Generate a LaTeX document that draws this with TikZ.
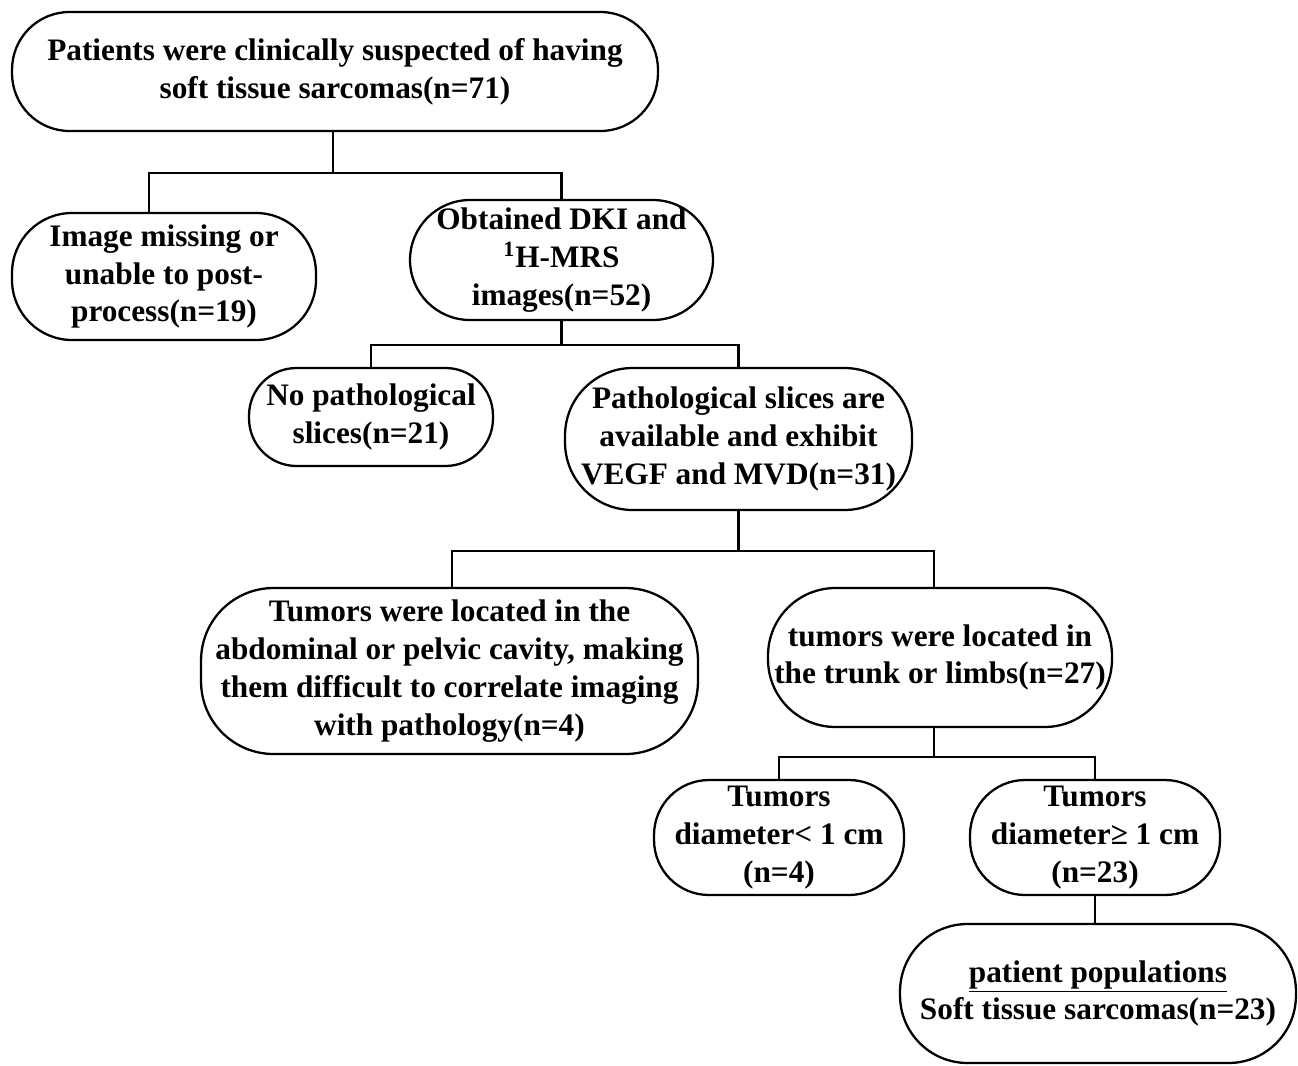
\documentclass[tikz,border=0pt]{standalone}
\usepackage{fontspec}
\setmainfont{Liberation Serif}[BoldFont={Liberation Serif Bold}]
\begin{document}
\begin{tikzpicture}[x=0.02cm,y=-0.02cm,
  box/.style={draw, line width=1.3pt, rounded corners=1.15cm, align=center, inner sep=0pt,
    font=\bfseries\fontsize{17.8}{21.5}\selectfont},
  link/.style={draw, line width=1.3pt}]
\useasboundingbox (0,0) rectangle (1298,1065);

\node[box, minimum width=12.92cm, minimum height=2.38cm] (top) at (335,71.5)
  {Patients were clinically suspected of having\\soft tissue sarcomas(n=71)};
\node[box, minimum width=6.08cm, minimum height=2.54cm, rounded corners=1.2cm] (img) at (164,276.5)
  {Image missing or\\unable to post-\\process(n=19)};
\node[box, minimum width=6.06cm, minimum height=2.4cm, rounded corners=1.2cm] (dki) at (561.5,260)
  {Obtained DKI and\\\textsuperscript{1}H-MRS\\images(n=52)};
\node[box, minimum width=4.88cm, minimum height=1.96cm, rounded corners=0.95cm] (nopath) at (371,417)
  {No pathological\\slices(n=21)};
\node[box, minimum width=6.94cm, minimum height=2.84cm, rounded corners=1.35cm] (path) at (738.5,439)
  {Pathological slices are\\available and exhibit\\VEGF and MVD(n=31)};
\node[box, minimum width=9.94cm, minimum height=3.32cm, rounded corners=1.45cm] (abd) at (449.5,671)
  {Tumors were located in the\\abdominal or pelvic cavity, making\\them difficult to correlate imaging\\with pathology(n=4)};
\node[box, minimum width=6.88cm, minimum height=2.78cm, rounded corners=1.35cm] (trunk) at (940,657.5)
  {tumors were located in\\the trunk or limbs(n=27)};
\node[box, minimum width=5.0cm, minimum height=2.3cm, rounded corners=1.1cm] (dless) at (779,837.5)
  {Tumors\\diameter< 1 cm\\(n=4)};
\node[box, minimum width=5.0cm, minimum height=2.3cm, rounded corners=1.1cm] (dge) at (1095,837.5)
  {Tumors\\diameter≥ 1 cm\\(n=23)};
\node[box, minimum width=7.92cm, minimum height=2.78cm, rounded corners=1.35cm] (pop) at (1098,993.5)
  {\underline{patient populations}\\Soft tissue sarcomas(n=23)};

\draw[link] ([xshift=-0.04cm]top.south) -- ++(0,41) -| ([xshift=-0.3cm]img.north);
\draw[link] ([xshift=-0.04cm]top.south) ++(0,41) -| (dki.north);
\draw[link] (dki.south) -- ++(0,24) -| (nopath.north);
\draw[link] (dki.south) ++(0,24) -| (path.north);
\draw[link] (path.south) -- ++(0,40) -| ([xshift=0.05cm]abd.north);
\draw[link] (path.south) ++(0,40) -| ([xshift=-0.12cm]trunk.north);
\draw[link] ([xshift=-0.12cm]trunk.south) -- ++(0,29) -| (dless.north);
\draw[link] ([xshift=-0.12cm]trunk.south) ++(0,29) -| (dge.north);
\draw[link] (dge.south) -- (dge.south |- pop.north);
\end{tikzpicture}
\end{document}
